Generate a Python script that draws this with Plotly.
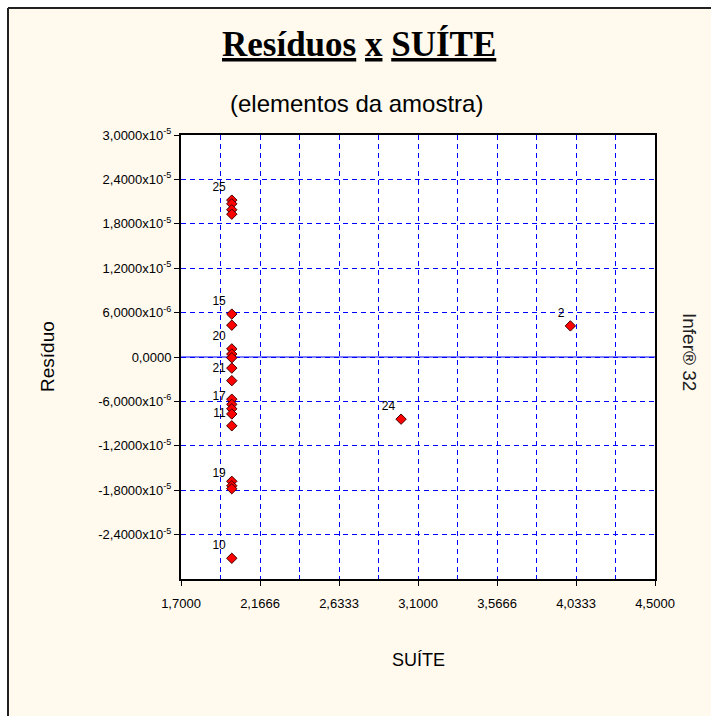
import plotly.graph_objects as go

# Sample elements: SUÍTE value, residual and sample label
suite = [2, 2, 2, 2, 2, 2, 2, 2, 2, 2, 2, 2, 2, 2, 2, 2, 2, 2, 2, 2, 3, 4]
residuo = [21.2e-6, 20.7e-6, 19.9e-6, 19.3e-6,
           5.8e-6, 4.3e-6, 1.1e-6, 0.4e-6, -0.1e-6, -1.5e-6, -3.2e-6,
           -5.7e-6, -6.4e-6, -7.0e-6, -7.7e-6, -9.3e-6,
           -16.8e-6, -17.4e-6, -17.8e-6, -27.2e-6,
           -8.4e-6, 4.2e-6]
rotulos = ["25", "", "", "",
           "15", "", "20", "", "", "", "21",
           "", "", "17", "", "11",
           "", "19", "", "10",
           "24", "2"]

# Axis ticks
x_ticks = [1.7, 2.16666, 2.63333, 3.1, 3.56666, 4.03333, 4.5]
x_ticktext = ["1,7000", "2,1666", "2,6333", "3,1000", "3,5666", "4,0333", "4,5000"]
x_minor = [1.93333, 2.4, 2.86667, 3.33333, 3.8, 4.26667]
y_ticks = [-2.4e-5, -1.8e-5, -1.2e-5, -6e-6, 0, 6e-6, 1.2e-5, 1.8e-5, 2.4e-5, 3.0e-5]
y_ticktext = ["-2,4000x10<sup>-5</sup>", "-1,8000x10<sup>-5</sup>", "-1,2000x10<sup>-5</sup>",
              "-6,0000x10<sup>-6</sup>", "0,0000", "6,0000x10<sup>-6</sup>",
              "1,2000x10<sup>-5</sup>", "1,8000x10<sup>-5</sup>", "2,4000x10<sup>-5</sup>",
              "3,0000x10<sup>-5</sup>"]

SANS = "Liberation Sans, Arial, sans-serif"
CREAM = "#FFF9EE"
GRID = "#0000FF"

fig = go.Figure()
# sample numbers that remain readable (invisible markers keep the text offset)
lab = [i for i, t in enumerate(rotulos) if t]
fig.add_trace(go.Scatter(
    x=[suite[i] for i in lab], y=[residuo[i] for i in lab],
    text=[rotulos[i] for i in lab], mode="markers+text", textposition="top left",
    textfont=dict(family=SANS, size=12, color="black"),
    marker=dict(symbol="diamond", size=8, color="rgba(0,0,0,0)"),
    showlegend=False, hoverinfo="skip",
))
# all sample points
fig.add_trace(go.Scatter(
    x=suite, y=residuo, mode="markers",
    marker=dict(symbol="diamond", size=8, color="#FF0000",
                line=dict(color="#400000", width=1)),
    showlegend=False, hoverinfo="x+y",
))

L, R, T, B = 181, 56, 135, 137
W, H = 711, 716
pw, ph = W - L - R, H - T - B


def px(xp):
    return (xp - L) / pw


def py(yp):
    return (H - B - yp) / ph


def underline(word):
    return '<span style="text-decoration:underline">' + word + '</span>'


fig.update_layout(
    width=W, height=H,
    margin=dict(l=L, r=R, t=T, b=B, pad=0),
    paper_bgcolor=CREAM, plot_bgcolor="white",
    font=dict(family=SANS, color="black"),
    xaxis=dict(
        range=[1.7, 4.5], tickmode="array", tickvals=x_ticks, ticktext=x_ticktext,
        ticks="outside", ticklen=5, tickcolor="black", tickfont=dict(size=13),
        ticklabelstandoff=6,
        showgrid=True, gridcolor=GRID, gridwidth=1, griddash="5px,4px",
        minor=dict(tickvals=x_minor, ticks="inside", ticklen=4, tickcolor=GRID,
                   showgrid=True, gridcolor=GRID, gridwidth=1, griddash="5px,4px"),
        showline=True, linecolor="black", linewidth=2, mirror=True,
        zeroline=False,
    ),
    yaxis=dict(
        range=[-3e-5, 3e-5], tickmode="array", tickvals=y_ticks, ticktext=y_ticktext,
        ticks="outside", ticklen=5, tickcolor="black", tickfont=dict(size=13),
        showgrid=True, gridcolor=GRID, gridwidth=1, griddash="5px,4px",
        showline=True, linecolor="black", linewidth=2, mirror=True,
        zeroline=False,
    ),
    shapes=[
        # white strips outside the outer frame
        dict(type="rect", xref="paper", yref="paper", x0=px(-5), x1=px(7), y0=py(H + 5), y1=py(-5),
             fillcolor="white", line=dict(width=0), layer="below"),
        dict(type="rect", xref="paper", yref="paper", x0=px(-5), x1=px(W + 5), y0=py(7), y1=py(-5),
             fillcolor="white", line=dict(width=0), layer="below"),
        # outer frame (left and top edges)
        dict(type="line", xref="paper", yref="paper", x0=px(8), x1=px(8), y0=py(8), y1=py(H + 5),
             line=dict(color="#202020", width=2)),
        dict(type="line", xref="paper", yref="paper", x0=px(8), x1=px(W + 5), y0=py(8), y1=py(8),
             line=dict(color="#202020", width=2)),
        # solid zero reference line
        dict(type="line", xref="paper", yref="y", x0=0, x1=1, y0=0, y1=0,
             line=dict(color=GRID, width=1), layer="below"),
    ],
    annotations=[
        dict(text="<b>" + underline("Resíduos") + " " + underline("x") + " "
                  + underline("SUÍTE") + "</b>",
             xref="paper", yref="paper", x=px(359), y=py(44), showarrow=False,
             font=dict(family="Liberation Serif, Times New Roman, serif", size=35, color="black"),
             xanchor="center", yanchor="middle"),
        dict(text="(elementos da amostra)", xref="paper", yref="paper",
             x=px(356), y=py(103), showarrow=False,
             font=dict(family=SANS, size=24, color="black"),
             xanchor="center", yanchor="middle"),
        dict(text="SUÍTE", xref="paper", yref="paper", x=0.5, y=py(660), showarrow=False,
             font=dict(family=SANS, size=18, color="black"),
             xanchor="center", yanchor="middle"),
        dict(text="Resíduo", xref="paper", yref="paper", x=px(47), y=py(357), showarrow=False,
             textangle=-90, font=dict(family=SANS, size=19, color="black"),
             xanchor="center", yanchor="middle"),
        dict(text="Infer® 32", xref="paper", yref="paper", x=px(690), y=py(352), showarrow=False,
             textangle=90, font=dict(family=SANS, size=19, color="#202020"),
             xanchor="center", yanchor="middle"),
    ],
)

fig.write_html("out.html")
